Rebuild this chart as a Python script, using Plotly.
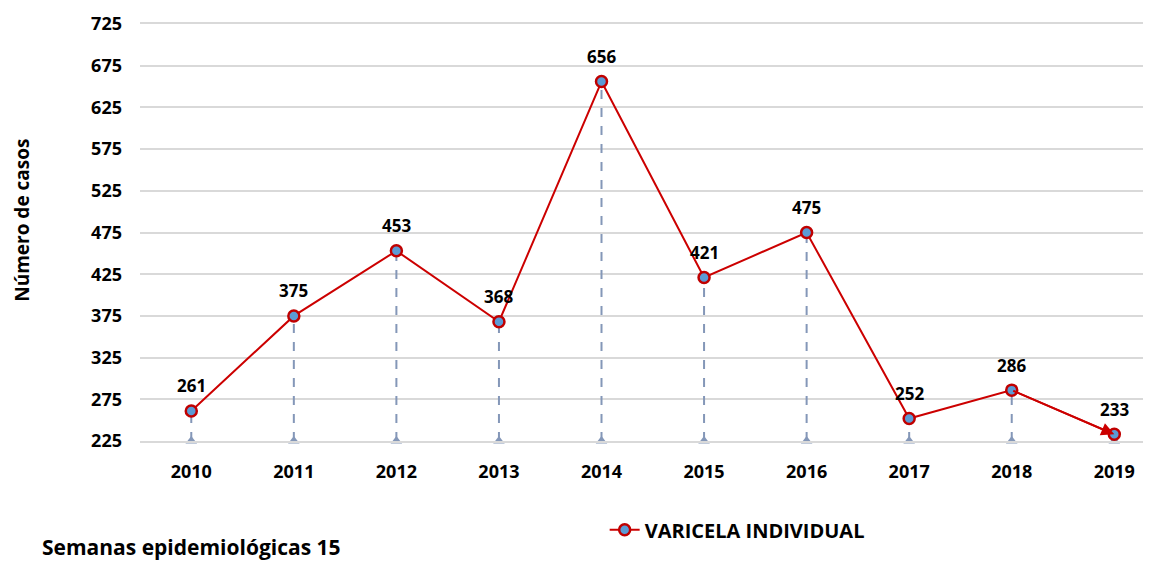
import plotly.graph_objects as go

years = ["2010", "2011", "2012", "2013", "2014", "2015", "2016", "2017", "2018", "2019"]
cases = [261, 375, 453, 368, 656, 421, 475, 252, 286, 233]
y_ticks = [225, 275, 325, 375, 425, 475, 525, 575, 625, 675, 725]
y_base = 225

FONT = "Open Sans"
fig = go.Figure()

# drop lines
for yr, v in zip(years, cases):
    fig.add_trace(go.Scatter(x=[yr, yr], y=[y_base, v], mode="lines",
                             line=dict(color="#8497b8", width=2, dash="dash"),
                             showlegend=False, hoverinfo="skip"))
fig.add_trace(go.Scatter(x=years, y=[y_base] * len(years), mode="markers",
                         marker=dict(symbol="triangle-up", size=10, color="#8497b8"),
                         showlegend=False, hoverinfo="skip", cliponaxis=False))

fig.add_trace(go.Scatter(x=years, y=cases, mode="lines+markers",
                         name="VARICELA INDIVIDUAL",
                         line=dict(color="#cc0000", width=2),
                         marker=dict(size=11, color="#5b9bd5",
                                     line=dict(color="#c00000", width=2.5)),
                         cliponaxis=False))

n = len(years)
fig.add_annotation(x=n - 1, y=cases[-1], ax=n - 2, ay=cases[-2],
                   xref="x", yref="y", axref="x", ayref="y",
                   showarrow=True, arrowhead=2, arrowsize=1.3, arrowwidth=2,
                   arrowcolor="#cc0000", standoff=0, text="")

for i, v in enumerate(cases):
    fig.add_annotation(x=i, y=v, xref="x", yref="y", text="<b>%d</b>" % v, showarrow=False,
                       yshift=25, yanchor="middle", xanchor="center",
                       font=dict(family=FONT, size=17, color="black"))

fig.add_annotation(text="<b>Semanas epidemiológicas 15</b>", xref="paper", yref="paper",
                   x=-0.098, y=-0.254, xanchor="left", yanchor="middle", showarrow=False,
                   font=dict(family=FONT, size=21, color="black"))
fig.add_annotation(text="<b>Número de casos</b>", xref="paper", yref="paper",
                   x=-0.116, y=0.53, xanchor="center", yanchor="middle", showarrow=False,
                   textangle=-90, font=dict(family=FONT, size=19, color="black"))

fig.update_layout(
    width=1151, height=563,
    margin=dict(l=132, r=0, t=16, b=130),
    plot_bgcolor="white", paper_bgcolor="white",
    font=dict(family=FONT, color="black"),
    showlegend=True,
    legend=dict(orientation="h", x=0.456, y=-0.213, xanchor="left", yanchor="middle",
                font=dict(family=FONT, size=20, color="black", weight="bold")),
    xaxis=dict(type="category", range=[-0.5, 9.436], showgrid=False,
               tickfont=dict(family=FONT, size=18, color="black", weight="bold"),
               ticks="", showline=True, linecolor="#d9d9d9", linewidth=2, mirror=True,
               zeroline=False, ticklabelstandoff=13),
    yaxis=dict(range=[225, 725], tickvals=y_ticks, showgrid=True, gridcolor="#d9d9d9",
               gridwidth=2, zeroline=False, showline=False, ticklabelstandoff=17,
               tickfont=dict(family=FONT, size=18, color="black", weight="bold")),
)

fig.write_html("out.html")
